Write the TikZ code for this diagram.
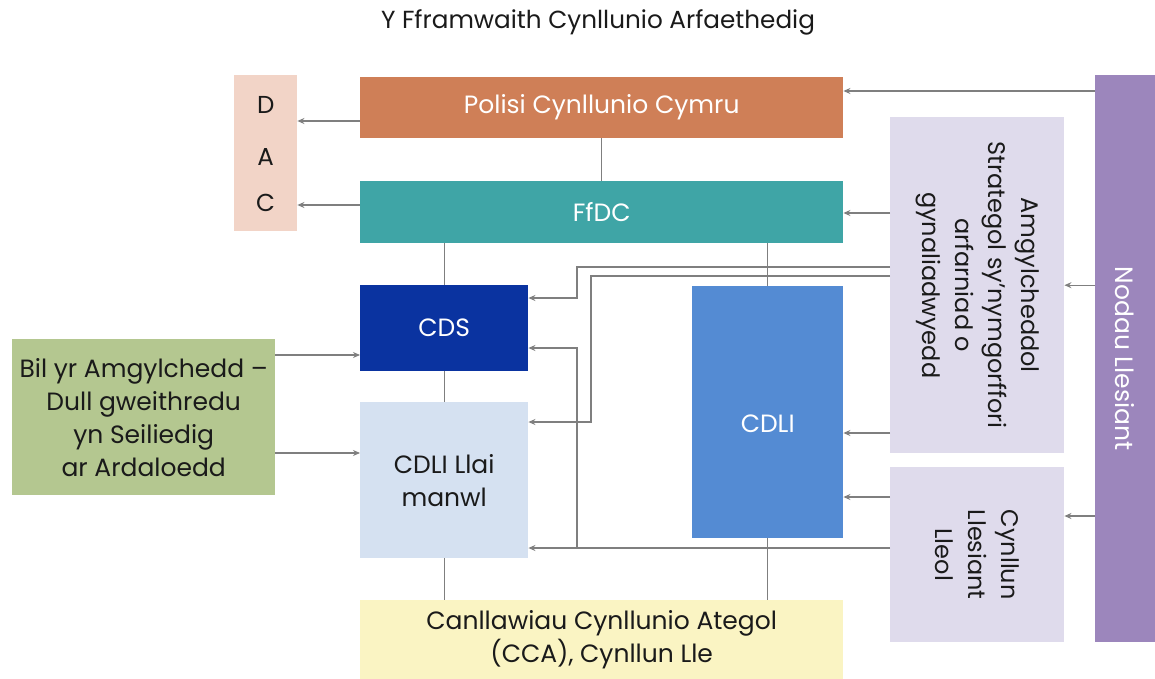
\documentclass[tikz,border=0pt]{standalone}
\usepackage{fontspec}
\setmainfont{Poppins}
\usetikzlibrary{arrows.meta,calc}
\definecolor{dacc}{HTML}{F2D4C7}
\definecolor{polc}{HTML}{CF7F57}
\definecolor{ffdcc}{HTML}{3FA5A6}
\definecolor{cdsc}{HTML}{0A33A0}
\definecolor{llaic}{HTML}{D5E1F1}
\definecolor{cdlic}{HTML}{548BD3}
\definecolor{bilc}{HTML}{B4C790}
\definecolor{canc}{HTML}{FAF4C3}
\definecolor{lavc}{HTML}{DFDBEC}
\definecolor{nodc}{HTML}{9C86BC}
\definecolor{linec}{HTML}{7F7F7F}
\definecolor{txtc}{HTML}{1A1A1A}
\tikzset{
  boxa/.style={rectangle, anchor=north west, inner sep=0pt, align=center, text=txtc, font=\fontsize{25}{33}\selectfont},
  wtxt/.style={text=white},
  arr/.style={draw=linec, line width=1.1pt, -{Stealth[length=7pt,width=6pt]}},
  ln/.style={draw=linec, line width=1.1pt},
  rtxt/.style={rotate=-90, align=center, text=txtc, font=\fontsize{24}{33}\selectfont},
  dl/.style={font=\fontsize{24.5}{26}\selectfont, text=txtc},
}
\begin{document}
\begin{tikzpicture}[x=1pt,y=-1pt]
\useasboundingbox (0,0) rectangle (1155,679);
\node[font=\fontsize{24.7}{28}\selectfont, text=txtc] (title) at (598,22) {Y Fframwaith Cynllunio Arfaethedig};
% boxes
\node[boxa, fill=dacc, minimum width=63pt, minimum height=156pt] (dac) at (234,75) {};
\node[dl] (dacD) at (dac.north |- 0,105) {D};
\node[dl] (dacA) at (dac.north |- 0,157) {A};
\node[dl] (dacC) at (dac.north |- 0,203) {C};
\node[boxa, wtxt, fill=polc, minimum width=483pt, minimum height=61pt] (pol) at (360,77) {Polisi Cynllunio Cymru};
\node[boxa, wtxt, fill=ffdcc, minimum width=483pt, minimum height=62pt] (ffdc) at (360,181) {FfDC};
\node[boxa, wtxt, fill=cdsc, minimum width=168pt, minimum height=86pt] (cds) at (360,285) {CDS};
\node[boxa, fill=llaic, minimum width=168pt, minimum height=156pt] (llai) at (360,402) {CDLI Llai\\manwl};
\node[boxa, wtxt, fill=cdlic, minimum width=151pt, minimum height=252pt, text height=41pt] (cdli) at (692,286) {CDLI};
\node[boxa, fill=bilc, minimum width=263pt, minimum height=156pt] (bil) at (12,339) {Bil yr Amgylchedd –\\Dull gweithredu\\yn Seiliedig\\ar Ardaloedd};
\node[boxa, fill=canc, minimum width=483pt, minimum height=79pt] (can) at (360,600) {Canllawiau Cynllunio Ategol\\(CCA), Cynllun Lle};
\node[boxa, fill=lavc, minimum width=174pt, minimum height=336pt] (amg) at (890,117) {};
\node[rtxt] (amgt) at (amg.center) {Amgylcheddol\\Strategol sy’nymgorffori\\arfarniad o\\gynaliadwyedd};
\node[boxa, fill=lavc, minimum width=174pt, minimum height=175pt] (cll) at (890,467) {};
\node[rtxt] (cllt) at (cll.center) {Cynllun\\Llesiant\\Lleol};
\node[boxa, fill=nodc, minimum width=60pt, minimum height=567pt] (nod) at (1095,75) {};
\node[rtxt, text=white, font=\fontsize{25}{33}\selectfont] (nodt) at (nod.center) {Nodau Llesiant};
% helper coordinates
\coordinate (y91) at (0,91);
\coordinate (y121) at (0,121);
\coordinate (y205) at (0,205);
\coordinate (y213) at (0,213);
\coordinate (y355) at (0,355);
\coordinate (y453) at (0,453);
\coordinate (y433) at (0,433);
\coordinate (y497) at (0,497);
\coordinate (y516) at (0,516);
\coordinate (p1) at (577,267);
\coordinate (p2) at (577,298);
\coordinate (q1) at (591,276);
\coordinate (q2) at (591,422);
\coordinate (r1) at (577,548);
\coordinate (r2) at (577,348);
% plain links
\draw[ln] (pol.south) -- (ffdc.north);
\draw[ln] (cds.north |- ffdc.south) -- (cds.north);
\draw[ln] (cds.south) -- (llai.north);
\draw[ln] (llai.south) -- (llai.south |- can.north);
\draw[ln] (cdli.north |- ffdc.south) -- (cdli.north);
\draw[ln] (cdli.south) -- (cdli.south |- can.north);
% arrows
\draw[arr] (pol.west |- y121) -- (dac.east |- y121);
\draw[arr] (ffdc.west |- y205) -- (dac.east |- y205);
\draw[arr] (nod.west |- y91) -- (pol.east |- y91);
\draw[arr] (amg.west |- y213) -- (ffdc.east |- y213);
\draw[arr] (nod.west |- amg.east) -- (amg.east);
\draw[arr] (nod.west |- y516) -- (cll.east |- y516);
\draw[arr] (amg.west |- y433) -- (cdli.east |- y433);
\draw[arr] (cll.west |- y497) -- (cdli.east |- y497);
\draw[arr] (bil.east |- y355) -- (cds.west |- y355);
\draw[arr] (bil.east |- y453) -- (llai.west |- y453);
\draw[arr] (amg.west |- p1) -- (p1) -- (p2) -- (cds.east |- p2);
\draw[arr] (amg.west |- q1) -- (q1) -- (q2) -- (llai.east |- q2);
\draw[arr] (cll.west |- r1) -- (llai.east |- r1);
\draw[arr] (r1) -- (r2) -- (cds.east |- r2);
\end{tikzpicture}
\end{document}
